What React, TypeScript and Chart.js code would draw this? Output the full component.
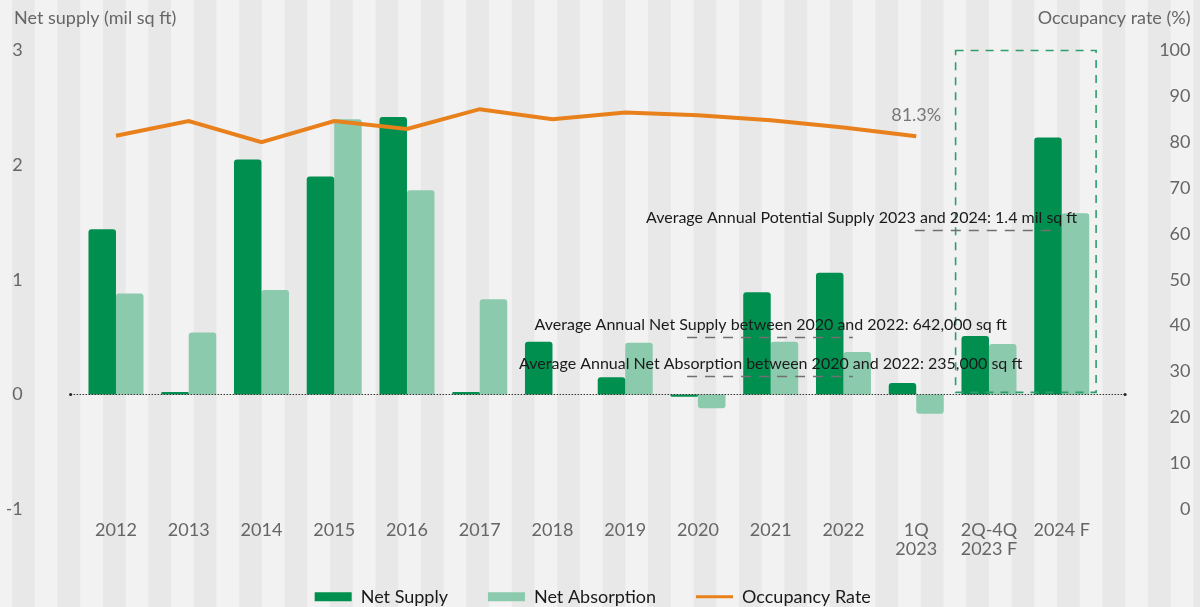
import React, { useEffect, useRef } from "react";
import { Chart, registerables } from "chart.js";

Chart.register(...registerables);

// ---------- data ----------
const categories: string[][] = [
  ["2012"], ["2013"], ["2014"], ["2015"], ["2016"], ["2017"], ["2018"],
  ["2019"], ["2020"], ["2021"], ["2022"], ["1Q", "2023"], ["2Q-4Q", "2023 F"], ["2024 F"],
];
const netSupply = [1.44, 0.02, 2.05, 1.9, 2.42, 0.02, 0.46, 0.15, -0.02, 0.89, 1.06, 0.1, 0.51, 2.24];
const netAbsorption = [0.88, 0.54, 0.91, 2.4, 1.78, 0.83, null, 0.45, -0.12, 0.46, 0.37, -0.17, 0.44, 1.58];
const occupancyRate = [81.4, 84.6, 80.0, 84.6, 82.9, 87.2, 85.0, 86.5, 85.9, 84.8, 83.2, 81.3, null, null];
const seriesNames = ["Net Supply", "Net Absorption", "Occupancy Rate"];
const axisTitles = ["Net supply (mil sq ft)", "Occupancy rate (%)"];
const leftAxisRange = [-1, 3];
const rightAxisRange = [0, 100];
const averageLabels = [
  "Average Annual Potential Supply 2023 and 2024: 1.4 mil sq ft",
  "Average Annual Net Supply between 2020 and 2022: 642,000 sq ft",
  "Average Annual Net Absorption between 2020 and 2022: 235,000 sq ft",
];
const averageLevels = [1.43, 0.5, 0.16];
const occupancyCallout = "81.3%";

// ---------- styles ----------
const FONT = "Lato, 'Open Sans', sans-serif";
const DARK_GREEN = "#008f4f";
const LIGHT_GREEN = "#8ccaad";
const ORANGE = "#e8801c";
const TICK_GRAY = "#666666";

const averagePlacement = [
  { from: 10.98, to: 12.97, textX: 10.25 },
  { from: 7.85, to: 10.13, textX: 9 },
  { from: 7.85, to: 10.13, textX: 9 },
];

const overlayPlugin = {
  id: "overlay",
  afterLayout(chart: any) {
    const lg = chart.legend;
    if (lg) {
      lg.top -= 22;
      lg.bottom = chart.height;
      lg.left -= 6;
      lg.right -= 6;
    }
  },
  afterDatasetsDraw(chart: any) {
    const { ctx, chartArea, scales } = chart;
    const x = scales.x;
    const y = scales.y;
    const y1 = scales.y1;
    ctx.save();

    // zero baseline
    const y0 = Math.round(y.getPixelForValue(0)) + 0.5;
    const zx0 = chartArea.left - 9;
    const zx1 = chartArea.right + 27;
    ctx.strokeStyle = "#333";
    ctx.lineWidth = 1;
    ctx.setLineDash([1.5, 1.5]);
    ctx.beginPath();
    ctx.moveTo(zx0, y0);
    ctx.lineTo(zx1, y0);
    ctx.stroke();
    ctx.setLineDash([]);
    ctx.fillStyle = "#222";
    [zx0, zx1].forEach((px) => {
      ctx.beginPath();
      ctx.arc(px, y0, 1.5, 0, Math.PI * 2);
      ctx.fill();
    });

    // forecast dashed box
    const bx0 = x.getPixelForValue(11.5) + 3;
    const bx1 = chartArea.right - 2;
    const by0 = y.getPixelForValue(leftAxisRange[1]);
    const by1 = y.getPixelForValue(0) - 2;
    ctx.strokeStyle = "#2e9e6c";
    ctx.lineWidth = 1.6;
    ctx.setLineDash([8, 7]);
    ctx.strokeRect(bx0, by0, bx1 - bx0, by1 - by0);

    // averages
    averageLabels.forEach((label, i) => {
      const p = averagePlacement[i];
      const ly = Math.round(y.getPixelForValue(averageLevels[i])) + 0.5;
      ctx.strokeStyle = "#707070";
      ctx.lineWidth = 1.5;
      ctx.setLineDash([10, 8]);
      ctx.beginPath();
      ctx.moveTo(x.getPixelForValue(p.from), ly);
      ctx.lineTo(x.getPixelForValue(p.to), ly);
      ctx.stroke();
      ctx.setLineDash([]);
      ctx.font = `16px ${FONT}`;
      ctx.fillStyle = "#1a1a1a";
      ctx.textAlign = "center";
      ctx.textBaseline = "middle";
      ctx.fillText(label, x.getPixelForValue(p.textX), ly - 12.5);
    });

    // occupancy callout
    const last = occupancyRate.reduce((acc: number, v, i) => (v !== null ? i : acc), 0);
    ctx.font = `18px ${FONT}`;
    ctx.fillStyle = "#777";
    ctx.textAlign = "center";
    ctx.textBaseline = "middle";
    ctx.fillText(occupancyCallout, x.getPixelForValue(last), y1.getPixelForValue(occupancyRate[last] as number) - 21);

    ctx.restore();
  },
  afterDraw(chart: any) {
    const { ctx, scales } = chart;
    ctx.save();
    ctx.font = `18px ${FONT}`;
    ctx.fillStyle = TICK_GRAY;
    ctx.textBaseline = "middle";
    ctx.textAlign = "left";
    ctx.fillText(axisTitles[0], scales.y.left + 7, 18);
    ctx.textAlign = "right";
    ctx.fillText(axisTitles[1], scales.y1.right, 18);
    ctx.restore();
  },
};

export default function App() {
  const ref = useRef<HTMLCanvasElement | null>(null);

  useEffect(() => {
    if (!ref.current) return;
    const chart = new Chart(ref.current, {
      type: "bar",
      data: {
        labels: categories,
        datasets: [
          {
            type: "bar",
            label: seriesNames[0],
            data: netSupply,
            backgroundColor: DARK_GREEN,
            borderWidth: 0,
            borderRadius: 3,
            categoryPercentage: 0.756,
            barPercentage: 1,
            yAxisID: "y",
            order: 1,
          },
          {
            type: "bar",
            label: seriesNames[1],
            data: netAbsorption,
            backgroundColor: LIGHT_GREEN,
            borderWidth: 0,
            borderRadius: 3,
            categoryPercentage: 0.756,
            barPercentage: 1,
            yAxisID: "y",
            order: 1,
          },
          {
            type: "line",
            label: seriesNames[2],
            data: occupancyRate,
            borderColor: ORANGE,
            backgroundColor: ORANGE,
            borderWidth: 4,
            pointRadius: 0,
            tension: 0,
            spanGaps: false,
            yAxisID: "y1",
            order: 0,
          },
        ] as any,
      },
      options: {
        responsive: false,
        animation: false,
        layout: { padding: { left: 7, right: 9.5, top: 50.5, bottom: 0 } },
        scales: {
          x: {
            grid: { display: false, drawTicks: false },
            border: { display: false },
            ticks: {
              color: TICK_GRAY,
              font: { family: FONT, size: 18, lineHeight: 1.05 },
              padding: 11.5,
              maxRotation: 0,
              autoSkip: false,
            },
          },
          y: {
            position: "left",
            min: leftAxisRange[0],
            max: leftAxisRange[1],
            grid: { display: false, drawTicks: false },
            border: { display: false },
            ticks: {
              stepSize: 1,
              color: TICK_GRAY,
              font: { family: FONT, size: 18 },
              padding: 57,
            },
            afterFit: (s: any) => {
              s.width = 72.6;
              s.paddingTop = 0;
              s.paddingBottom = 0;
            },
          },
          y1: {
            position: "right",
            min: rightAxisRange[0],
            max: rightAxisRange[1],
            grid: { display: false, drawTicks: false },
            border: { display: false },
            ticks: {
              stepSize: 10,
              color: TICK_GRAY,
              font: { family: FONT, size: 18 },
              crossAlign: "far",
              padding: 61,
            },
            afterFit: (s: any) => {
              s.width = 92.4;
              s.paddingTop = 0;
              s.paddingBottom = 0;
            },
          },
        },
        plugins: {
          tooltip: { enabled: false },
          title: { display: false },
          legend: {
            position: "bottom",
            maxHeight: 37.2,
            labels: {
              usePointStyle: true,
              pointStyleWidth: 37,
              boxHeight: 9,
              padding: 40,
              color: "#1a1a1a",
              font: { family: FONT, size: 18 },
              generateLabels: (c: any) => {
                const items = (Chart.defaults.plugins.legend.labels as any).generateLabels(c);
                items.sort((a: any, b: any) => a.datasetIndex - b.datasetIndex);
                return items.map((it: any) =>
                  it.datasetIndex === 2
                    ? { ...it, pointStyle: "line", lineWidth: 3, strokeStyle: ORANGE, lineCap: "butt" }
                    : { ...it, pointStyle: "rect", lineWidth: 0 }
                );
              },
            },
          },
        },
      } as any,
      plugins: [overlayPlugin],
    });
    return () => chart.destroy();
  }, []);

  return (
    <div
      style={{
        position: "fixed",
        left: 0,
        top: 0,
        width: 1200,
        height: 607,
        background:
          "linear-gradient(to right, #e8e8e8 0, #e8e8e8 50%, #f2f2f2 50%, #f2f2f2 100%)",
        backgroundSize: "45.45px 100%",
        backgroundPosition: "12px 0",
      }}
    >
      <canvas ref={ref} width={1200} height={607} style={{ display: "block" }} />
    </div>
  );
}
